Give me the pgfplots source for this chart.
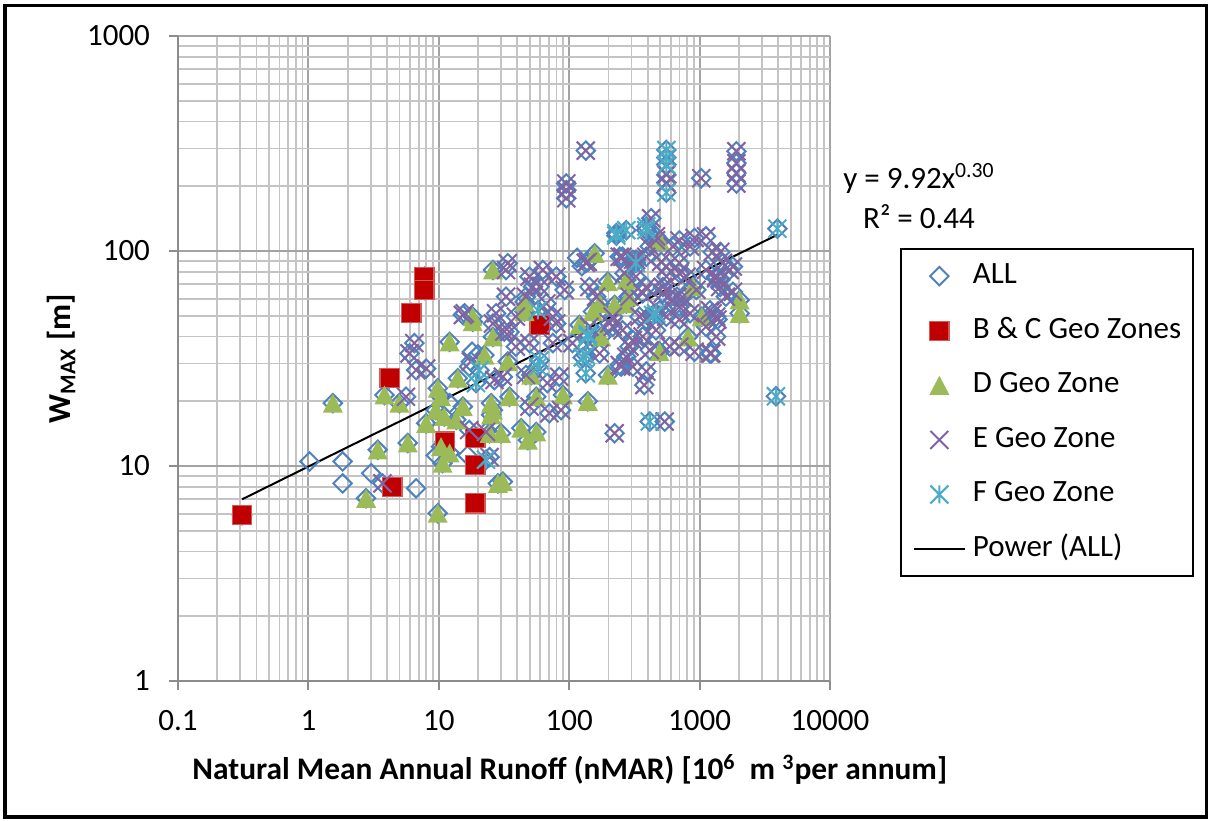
\documentclass[border=0pt]{standalone}
\usepackage{fontspec}
\setmainfont{Carlito}
\usepackage{pgfplots}
\usepackage{pgfplotstable}
\pgfplotsset{compat=1.18}

\definecolor{allblue}{HTML}{4F81BD}
\definecolor{bcred}{HTML}{C00000}
\definecolor{bcedge}{HTML}{D35A5A}
\definecolor{dgreen}{HTML}{9BBB59}
\definecolor{epurple}{HTML}{8064A2}
\definecolor{fcyan}{HTML}{4BACC6}
\definecolor{gridmajor}{HTML}{A3A3A3}
\definecolor{gridminor}{HTML}{C4C4C4}
\definecolor{axisgray}{HTML}{8C8C8C}

% Excel-like markers
\pgfdeclareplotmark{xdiamond}{%
  \pgfpathmoveto{\pgfqpoint{0pt}{\pgfplotmarksize}}%
  \pgfpathlineto{\pgfqpoint{\pgfplotmarksize}{0pt}}%
  \pgfpathlineto{\pgfqpoint{0pt}{-\pgfplotmarksize}}%
  \pgfpathlineto{\pgfqpoint{-\pgfplotmarksize}{0pt}}%
  \pgfpathclose\pgfusepathqstroke}
\pgfdeclareplotmark{xtriangle}{%
  \pgfpathmoveto{\pgfqpoint{0pt}{.95\pgfplotmarksize}}%
  \pgfpathlineto{\pgfqpoint{\pgfplotmarksize}{-.95\pgfplotmarksize}}%
  \pgfpathlineto{\pgfqpoint{-\pgfplotmarksize}{-.95\pgfplotmarksize}}%
  \pgfpathclose\pgfusepathqfill}
\pgfdeclareplotmark{xcross}{%
  \pgfpathmoveto{\pgfqpoint{-\pgfplotmarksize}{-\pgfplotmarksize}}%
  \pgfpathlineto{\pgfqpoint{\pgfplotmarksize}{\pgfplotmarksize}}%
  \pgfpathmoveto{\pgfqpoint{-\pgfplotmarksize}{\pgfplotmarksize}}%
  \pgfpathlineto{\pgfqpoint{\pgfplotmarksize}{-\pgfplotmarksize}}%
  \pgfusepathqstroke}
\pgfdeclareplotmark{xstar}{%
  \pgfpathmoveto{\pgfqpoint{-\pgfplotmarksize}{-\pgfplotmarksize}}%
  \pgfpathlineto{\pgfqpoint{\pgfplotmarksize}{\pgfplotmarksize}}%
  \pgfpathmoveto{\pgfqpoint{-\pgfplotmarksize}{\pgfplotmarksize}}%
  \pgfpathlineto{\pgfqpoint{\pgfplotmarksize}{-\pgfplotmarksize}}%
  \pgfpathmoveto{\pgfqpoint{0pt}{-\pgfplotmarksize}}%
  \pgfpathlineto{\pgfqpoint{0pt}{\pgfplotmarksize}}%
  \pgfusepathqstroke}

% legend images: a single centred marker, or a short line
\pgfplotsset{
  zone marker legend/.style={legend image code/.code={\path (0cm,0cm) (0.9cm,0cm);
    \draw[##1] plot coordinates {(0.45cm,0cm)};}},
  trend line legend/.style={legend image code/.code={\draw[##1] (0cm,0cm) -- (0.9cm,0cm);}},
}

% sites not assigned to a geo zone (shown in ALL only)
\pgfplotstableread{
x y
1.02 10.5
1.83 10.5
1.83 8.3
3.03 9.25
6.7 7.88
9.5 11.2
12.1 19.6
16.6 11.2
17.1 29
18 34
20 33
115 93
125 85
}\tblOther

\pgfplotstableread{
x y
0.31 5.9
7.77 75.9
7.77 65.9
6.17 51.5
4.19 25.6
4.41 8.0
11.1 13.0
19.1 13.5
19.1 10.1
19.1 6.7
59.3 45.3
}\tblBC

\pgfplotstableread{
x y
1.54 19.6
2.77 7.08
3.40 11.9
3.83 21.4
4.99 19.6
5.78 12.8
9.83 23.0
8.0 15.8
9.5 18.2
11 17
12.1 37.8
18.2 46.9
18.2 49.5
14.0 25.6
15.3 18.9
13.6 16.4
10.4 12.3
12.1 11.5
10.7 10.3
9.8 6.03
26.0 81.6
22.4 32.8
25.2 19.6
25.2 17.3
24.5 14.2
28.4 8.3
157 97.5
198 72
274 73.3
285 61.3
171 57.1
223 56.2
45.5 58
45.5 52.3
120 45.3
152 52.3
33.8 30.6
26.0 39.9
51.2 26.5
55.9 21
34.9 21
26 18.2
89.5 21.4
139 20
198 26.5
42.9 15
55.9 14.4
48.2 13.2
31 8.45
30 14.2
10.4 21
274 57
494 112
890 68.2
2030 59.2
2030 51.3
1040 49.5
815 39.9
494 34
176 39.9
}\tblD

\pgfplotstableread{
x y
5.96 33.4
6.5 37.3
6.7 27.9
8.0 28.4
5.6 21
3.7 8.3
15.3 50.4
17.1 14.7
17.6 30.6
134 293
95 206
95 192
95 176
33.8 87.7
32.8 81.6
15.8 51.3
59.3 68.2
79.6 76
92.2 65.9
139 89
244 94
308 91
32.8 61.3
39 49.5
27.5 51.3
46.6 61.3
66.7 57
75 49.5
161 61.3
216 49.5
266 78.8
26 46
49.6 76
52.7 68.2
62.8 81.6
31.8 42.2
31 26
26.7 25.1
46.6 26.5
49.6 18.9
70.5 17.6
86.6 18.2
39 35.9
49.6 37.3
75 37.3
79.6 46
106 37.3
143 44.4
216 44.4
250 29
274 32.2
223 14.2
23 14.4
24.5 11
34.9 42
68 24.3
84 26
308 38.5
556 226
556 208
1030 218
1915 291
1915 256
1915 230
1915 206
463 117
425 142
700 112
915 115
1120 117
415 105
256 94
325 91
508 89
700 88
1260 99
1510 88
556 76
795 76
1340 76
1700 81.6
390 68
523 63.6
670 61.3
945 66
1440 68
1590 61.3
134 88
143 68
290 61.3
494 53
700 55
1260 51.3
390 48
556 49.5
203 46
290 35.9
415 34.6
308 29
390 27.5
377 23.8
244 29.5
700 35.9
915 34
1200 33.4
540 16.1
1340 49.5
700 48
1440 99
1800 84.6
1340 74.6
1800 64.6
1200 53
1370 48
1230 33.4
463 112
624 105
845 105
390 94
556 84.6
700 78.8
1120 81.6
1440 73.3
325 76
366 63.6
523 68
624 59
740 61
845 51.3
346 49.5
256 42.8
366 40
463 42.8
590 36
1120 44.4
1340 40
171 33.4
}\tblE

\pgfplotstableread{
x y
556 295
556 272
556 252
556 187
230 121
274 125
390 125
3950 127
3850 21.1
415 16.1
20.5 27.9
23 10.7
57.5 53
59.3 31
57.5 29
139 40
127 32
134 27
19.3 24.3
325 88
440 50.4
390 130
230 118
463 51.3
134 32.8
139 41
}\tblF

\begin{document}
\begin{tikzpicture}[x=1pt,y=1pt]
\useasboundingbox (0,0) rectangle (605.5,410);
\draw[black, line width=1.8pt] (2.4,1.6) rectangle (603.2,407.3);

\begin{axis}[
  at={(89pt,69.5pt)}, anchor=south west,
  scale only axis, width=326pt, height=322.5pt,
  xmode=log, ymode=log,
  xmin=0.1, xmax=10000, ymin=1, ymax=1000,
  log ticks with fixed point,
  /pgf/number format/1000 sep={},
  /pgf/number format/assume math mode=true,
  axis x line*=bottom, axis y line*=left,
  x axis line style={-}, y axis line style={-},
  axis line style={axisgray, line width=1pt},
  grid=both,
  major grid style={gridmajor, line width=0.9pt},
  minor grid style={gridminor, line width=0.9pt},
  tick align=outside,
  major tick length=4.5pt, minor tick length=0pt,
  tick style={axisgray, line width=1pt},
  ticklabel style={font=\fontsize{15.5}{18}\selectfont},
  yticklabel style={xshift=-6pt},
  xticklabel style={yshift=-6.5pt},
  xlabel={Natural Mean Annual Runoff (nMAR) [10\textsuperscript{6}\ \ m \textsuperscript{3}per annum]},
  xlabel style={at={(axis description cs:0.601,-0.137)}, anchor=center,
    font=\fontsize{15.7}{18}\selectfont\bfseries},
  ylabel={W\textsubscript{MAX} [m]},
  ylabel style={at={(axis description cs:-0.1794,0.5)}, anchor=center,
    font=\fontsize{16}{18}\selectfont\bfseries},
  legend cell align=left,
  legend style={at={(1.107,0.671)}, anchor=north west, draw=black,
    line width=1pt, fill=white, font=\fontsize{15.5}{18}\selectfont,
    inner xsep=6pt, inner ysep=6.2pt, row sep=12.8pt,
    nodes={inner xsep=0pt, inner ysep=0pt, text height=11pt, text depth=3.5pt},
    /tikz/every odd column/.style={column sep=3.5pt},
    /tikz/every even column/.style={column sep=7pt}},
]
% ALL: every site, drawn underneath the zone markers
\addplot[only marks, mark=xdiamond, mark size=4.6pt, allblue, line width=1pt, zone marker legend]
  table[x=x,y=y] {\tblOther};
\addlegendentry{ALL}
\addplot[only marks, mark=xdiamond, mark size=4.6pt, allblue, line width=1pt, forget plot]
  table[x=x,y=y] {\tblBC};
\addplot[only marks, mark=xdiamond, mark size=4.6pt, allblue, line width=1pt, forget plot]
  table[x=x,y=y] {\tblD};
\addplot[only marks, mark=xdiamond, mark size=4.6pt, allblue, line width=1pt, forget plot]
  table[x=x,y=y] {\tblE};
\addplot[only marks, mark=xdiamond, mark size=4.6pt, allblue, line width=1pt, forget plot]
  table[x=x,y=y] {\tblF};

\addplot[only marks, mark=square*, mark size=4.8pt, draw=bcedge, fill=bcred, line width=0.6pt, zone marker legend]
  table[x=x,y=y] {\tblBC};
\addlegendentry{B \& C Geo Zones}
\addplot[only marks, mark=xtriangle, mark size=5pt, dgreen, fill=dgreen, zone marker legend]
  table[x=x,y=y] {\tblD};
\addlegendentry{D Geo Zone}
\addplot[only marks, mark=xcross, mark size=4.5pt, epurple, line width=1pt, zone marker legend]
  table[x=x,y=y] {\tblE};
\addlegendentry{E Geo Zone}
\addplot[only marks, mark=xstar, mark size=4.5pt, fcyan, line width=1pt, zone marker legend]
  table[x=x,y=y] {\tblF};
\addlegendentry{F Geo Zone}

% power-law trend through the ALL data
\addplot[black, line width=1pt, no marks, trend line legend]
  coordinates {(0.31,7.0) (3950,119)};
\addlegendentry{Power (ALL)}
\end{axis}

\node[align=center, font=\fontsize{15.5}{20}\selectfont] at (459.5,312)
  {y = 9.92x\textsuperscript{0.30}\\R² = 0.44};
\end{tikzpicture}
\end{document}
